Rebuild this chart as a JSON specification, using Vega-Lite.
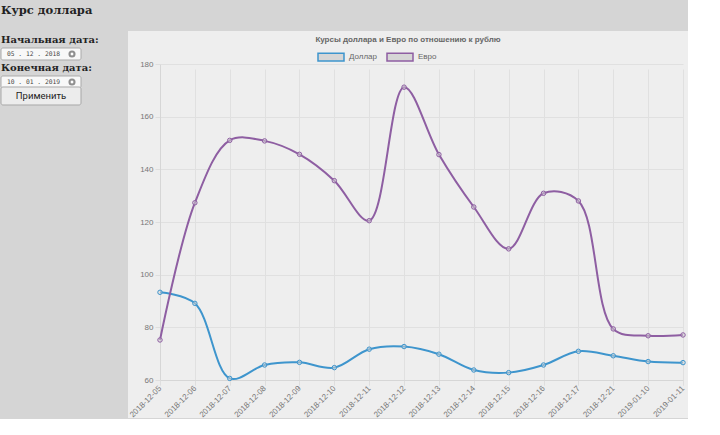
{
  "$schema": "https://vega.github.io/schema/vega-lite/v6.json",
  "background": "#d5d5d5",
  "padding": {"left": 0, "top": 4, "right": 0, "bottom": 0},
  "bounds": "flush",
  "spacing": 47,
  "title": {"text": "Курс доллара", "anchor": "start", "frame": "group", "font": "DejaVu Serif", "fontSize": 11.5, "fontWeight": "bold", "color": "#222222", "offset": 15},
  "config": {"view": {"stroke": null}},
  "hconcat": [
    {
      "width": 80,
      "height": {"step": 14},
      "data": {"values": [
        {"item": "Начальная дата:", "kind": "label"},
        {"item": "05 . 12 . 2018", "kind": "date"},
        {"item": "Конечная дата:", "kind": "label"},
        {"item": "10 . 01 . 2019", "kind": "date"},
        {"item": "Применить", "kind": "button"}
      ]},
      "encoding": {
        "y": {"field": "item", "type": "nominal", "sort": null, "axis": null,
              "scale": {"type": "band", "paddingInner": 0.143, "paddingOuter": 0.214,
                        "domain": ["Начальная дата:", "05 . 12 . 2018", "Конечная дата:", "10 . 01 . 2019", "Применить"]}}
      },
      "layer": [
        {
          "transform": [{"filter": "datum.kind === 'date'"}],
          "mark": {"type": "rect", "cornerRadius": 2, "strokeWidth": 1, "fill": "#f8f8f8", "stroke": "#aaaaaa"}
        },
        {
          "transform": [{"filter": "datum.kind === 'button'"}],
          "mark": {"type": "rect", "cornerRadius": 2, "strokeWidth": 1, "fill": "#ececec", "stroke": "#a8a8a8", "height": 18}
        },
        {
          "transform": [{"filter": "datum.kind === 'label'"}],
          "mark": {"type": "text", "align": "left", "baseline": "middle", "dx": -40, "font": "DejaVu Serif", "fontSize": 10, "fontWeight": "bold", "color": "#222222"},
          "encoding": {"text": {"field": "item"}}
        },
        {
          "transform": [{"filter": "datum.kind === 'date'"}],
          "mark": {"type": "text", "align": "left", "baseline": "middle", "dx": -34, "font": "DejaVu Sans Mono", "fontSize": 6.3, "color": "#444444"},
          "encoding": {"text": {"field": "item"}}
        },
        {
          "transform": [{"filter": "datum.kind === 'date'"}],
          "mark": {"type": "point", "filled": true, "shape": "circle", "fill": "#8f8f8f", "fillOpacity": 1, "strokeWidth": 0, "size": 50, "xOffset": 31}
        },
        {
          "transform": [{"filter": "datum.kind === 'date'"}],
          "mark": {"type": "point", "filled": true, "shape": "cross", "angle": 45, "fill": "#ffffff", "fillOpacity": 1, "strokeWidth": 0, "size": 10, "xOffset": 31}
        },
        {
          "transform": [{"filter": "datum.kind === 'button'"}],
          "mark": {"type": "text", "align": "center", "baseline": "middle", "font": "Roboto", "fontSize": 9.5, "color": "#222222"},
          "encoding": {"text": {"field": "item"}}
        }
      ]
    },
    {
      "width": 560,
      "height": 387,
      "view": {"fill": "#eeeeee", "stroke": null},
      "title": {"text": "Курсы доллара и Евро по отношению к рублю", "anchor": "middle", "font": "Liberation Sans", "fontSize": 8, "fontWeight": "bold", "color": "#666666", "offset": -13},
      "data": {"values": [
        {"date": "2018-12-05", "Доллар": 93.3, "Евро": 75.2},
        {"date": "2018-12-06", "Доллар": 89.1, "Евро": 127.3},
        {"date": "2018-12-07", "Доллар": 60.6, "Евро": 151.0},
        {"date": "2018-12-08", "Доллар": 65.7, "Евро": 150.8},
        {"date": "2018-12-09", "Доллар": 66.7, "Евро": 145.7},
        {"date": "2018-12-10", "Доллар": 64.7, "Евро": 135.7},
        {"date": "2018-12-11", "Доллар": 71.7, "Евро": 120.5},
        {"date": "2018-12-12", "Доллар": 72.7, "Евро": 171.2},
        {"date": "2018-12-13", "Доллар": 69.8, "Евро": 145.6},
        {"date": "2018-12-14", "Доллар": 63.8, "Евро": 125.7},
        {"date": "2018-12-15", "Доллар": 62.8, "Евро": 109.8},
        {"date": "2018-12-16", "Доллар": 65.7, "Евро": 130.9},
        {"date": "2018-12-17", "Доллар": 70.9, "Евро": 128.0},
        {"date": "2018-12-21", "Доллар": 69.2, "Евро": 79.4},
        {"date": "2019-01-10", "Доллар": 67.0, "Евро": 76.8},
        {"date": "2019-01-11", "Доллар": 66.6, "Евро": 77.1}
      ]},
      "transform": [{"fold": ["Доллар", "Евро"], "as": ["currency", "rate"]}],
      "encoding": {
        "x": {"field": "date", "type": "ordinal", "sort": null,
              "scale": {"type": "point", "padding": 0, "range": [32, 555]},
              "axis": {"title": null, "orient": "bottom", "offset": -38, "labelAngle": -45, "labelAlign": "right", "labelBaseline": "middle",
                       "labelFont": "Liberation Sans", "labelFontSize": 8, "labelColor": "#777777", "labelPadding": 2, "labelOverlap": false, "labelBound": false,
                       "tickSize": 5, "tickColor": "#dedede", "domainColor": "#d6d6d6", "grid": true, "gridColor": "#e0e0e0"}},
        "y": {"field": "rate", "type": "quantitative",
              "scale": {"domain": [60, 180], "range": [349, 33], "nice": false, "zero": false},
              "axis": {"title": null, "orient": "left", "offset": -32, "values": [60, 80, 100, 120, 140, 160, 180],
                       "labelFont": "Liberation Sans", "labelFontSize": 8, "labelColor": "#777777", "labelPadding": 2,
                       "tickSize": 5, "tickColor": "#dedede", "domainColor": "#d6d6d6", "grid": true, "gridColor": "#e0e0e0"}},
        "color": {"field": "currency", "type": "nominal",
                  "scale": {"domain": ["Доллар", "Евро"], "range": ["#3e95cd", "#8e5ea2"]},
                  "legend": {"orient": "none", "legendX": 316, "legendY": 12, "direction": "horizontal", "title": null,
                             "symbolType": "M-1,-0.3H1V0.3H-1Z", "symbolSize": 676, "symbolStrokeWidth": 1.5, "symbolFillColor": "#d6d6d6",
                             "labelFont": "Liberation Sans", "labelFontSize": 8, "labelColor": "#666666", "labelOffset": 4, "columnPadding": 6}}
      },
      "layer": [
        {"mark": {"type": "line", "interpolate": "catmull-rom", "strokeWidth": 2}},
        {"mark": {"type": "point", "filled": false, "fill": "#d6d6d6", "fillOpacity": 0.5, "size": 20, "strokeWidth": 1, "opacity": 1}}
      ]
    }
  ]
}
